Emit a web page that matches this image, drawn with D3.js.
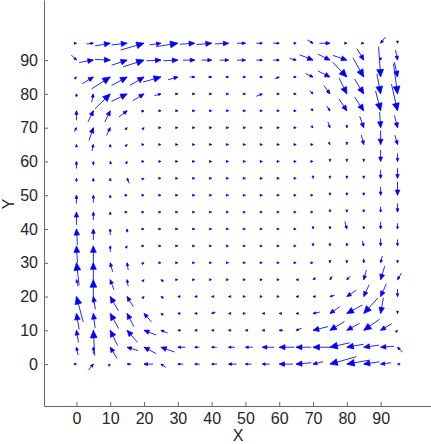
<!DOCTYPE html>
<html>
<head>
<meta charset="utf-8">
<script src="https://d3js.org/d3.v7.min.js"></script>
<style>
body { margin: 0; background: #fff; }
</style>
</head>
<body>
<div id="canvas"></div>
<script>
// DATA ========================================================================

var X_GRID = [0, 5, 10, 15, 20, 25, 30, 35, 40, 45, 50, 55, 60, 65, 70, 75, 80, 85, 90, 95]

// rows of U and V go from the top of the plot (y = 95) down to y = 0
var Y_GRID = [95, 90, 85, 80, 75, 70, 65, 60, 55, 50, 45, 40, 35, 30, 25, 20, 15, 10, 5, 0]

// x component of each arrow (tail -> head, head sits on the grid point)
var U = [
    [0.5, 2, 4.5, 4.6, 6.9, 3.4, 6.4, 4.4, 4.5, 4, 2.5, 1.8, 1.8, 0.5, 1.7, 3.1, 0.5, 0.2, -1.4, 0],
    [1.5, 4.2, 4.5, 4.6, 6.2, 4.3, 4.3, 3.5, 3, 2.6, 2.5, 1.8, 1.8, 1.9, 4, 3.6, 4.1, 2, 0, 0.6],
    [0.2, 3.3, 5.5, 4.6, 4.2, 5.3, 2.9, 1.5, 1, 0.5, 0.5, 0.5, 1.3, 0.5, 2.2, 3.6, 4.2, 3.2, 0.6, 0.9],
    [0, 0.5, 4.5, 4.6, 3.3, 1.9, 0.5, 0.4, 0.4, 0.3, 0.3, 1.8, 0.3, 0.3, 1, 1.8, 2.3, 2.7, 1.1, 1.2],
    [0, 1.6, 1.6, 2.4, 0.8, 0.4, 0.3, 0.3, 0.3, 0.3, 0.3, 0.3, 0.3, 0.3, 0.5, 1, 2.3, 2.7, 1.5, 1.8],
    [0.6, 1.3, 1.1, 0.6, 0.3, 0.2, 0.2, 0.2, 0.2, 0.2, 0.2, 0.2, 0.2, 0.2, 0.3, 0.6, 0, 1.2, 0.3, 0.9],
    [0, 0.4, 0, 0.2, 0.2, 0.2, 0.2, 0.2, 0.2, 0.2, 0.2, 0.2, 0.2, 0.2, 0.2, 0.1, 0, 0.7, 0, 0.8],
    [0, 0, -0.2, 0.1, 0.2, 0.2, 0.2, 0.2, 0.2, 0.1, 0.1, 0.1, 0.1, 0.1, 0.1, 0, 0, 0, 0, 0],
    [0, 0, 0, -0.6, 0.2, 0.1, 0.1, 0.1, 0.1, 0.1, 0.1, 0.1, 0.1, 0.1, 0, 0, 0, 0, 0, 0],
    [0, 0, 0, 0.3, 0.1, 0.1, 0.1, 0.1, 0.1, 0.1, 0.1, 0.1, 0.1, 0, 0, 0, 0, 0, 0, 0],
    [0, 0, 0, 0.2, 0.1, 0.1, 0.1, 0.1, 0.1, 0, 0, 0, 0, 0, 0, 0, 0, 0, 0, 0],
    [-0.3, 0, 0, 0, 0.1, 0.1, 0.1, 0.1, 0.1, 0, 0, 0, 0, 0, 0, 0, 0.6, 0, 0, 0],
    [-0.3, 0, 0, 0.2, 0.1, 0.1, 0.1, 0, 0, 0, 0, 0, 0, 0, 0, 0, 0, 0.4, 0, 0],
    [-0.8, 0, -0.7, -0.3, 0.2, 0.1, 0, 0, 0, 0, 0, 0, 0, 0, 0, 0, 0, 0, -0.5, 0],
    [-0.5, 0, -1.1, -0.3, 0.3, -0.8, 0, 0, 0, 0, 0, 0, 0, -0.3, -0.8, -0.7, -1.1, -0.8, -1.2, -1.1],
    [-2, -0.6, -2.4, -1.8, 0.2, -0.8, -0.2, -0.2, -0.2, -0.2, 0, 0, 0, -0.4, -0.6, -1.4, -2.8, -1.6, -1.7, 0],
    [-0.8, -0.5, -2.5, -2, -2.2, -0.6, -0.3, -0.3, -1.2, -0.3, 0, -0.3, -0.3, -0.4, -2, -2.9, -4.6, -4.2, -0.8, 0],
    [-0.6, -0.4, -2.2, -3, -3.6, -2, -0.8, -0.3, -0.2, -0.2, -0.4, -0.5, -1.2, -1.6, -4.4, -4.3, -3.8, -4.7, -3.3, 0.1],
    [-0.5, 0, -2, -3.2, -3.6, -4, -2.2, -1.4, -1.5, -1.9, -2.2, -3.5, -4.5, -4.5, -5, -5.8, -5, -4.5, -4, -1.5],
    [0.3, 1.5, 0.1, -1.3, -2.7, -1.5, -1.6, -1.5, -1.6, -2.4, -1.8, -2.2, -4.1, -4.5, -3, -7.8, -6.8, -4.7, -3.1, -0.3]
]

// y component of each arrow
var V = [
    [0, 0.2, 0.8, 0.5, 2, 0.5, 1, 0.3, 0.4, 0.2, 0, 0, 0, 0, -1, 0, 0, 0, -1.8, -0.5],
    [-1.5, 0.7, -0.2, 1.5, 2, 0.2, 0.2, 0, 0, 0, 0, 0, 0, -0.5, -1.6, -1.8, -1.4, -3.4, -0.3, -3],
    [0.2, 2, 3.5, 2.5, 2.5, 1.5, 0.8, 0, 0, 0, 0, 0, 0.5, 0, -1, -1.8, -4.4, -5.7, -9, -4.4],
    [0.8, 2.5, 4.4, 2.2, 2, 0.5, 0, 0, 0, 0, 0, 0.7, 0, 0, -1, -2.5, -4.7, -4.4, -5.9, -9],
    [2.8, 3.3, 3.3, 1.8, 0.2, 0, 0, 0, 0, 0, 0, 0, 0, 0, -0.5, -1.5, -3.5, -4.1, -5.9, -7.9],
    [1.2, 3.8, 2.3, 0.6, 0.3, 0, 0, 0, 0, 0, 0, 0, 0, 0, -0.3, -1.7, -0.5, -3.4, -4.6, -3.6],
    [0.6, 1.9, 0.5, 0.2, 0, 0, 0, 0, 0, 0, 0, 0, 0, 0, 0, -0.2, -0.3, -2.8, -4.2, -2.8],
    [2.1, 1.2, 0.8, 0.2, 0, 0, 0, 0, 0, 0, 0, 0, 0, 0, 0, -0.1, -0.2, -0.5, -3.4, -2.4],
    [1, 1, 0.4, 1.5, 0.1, 0, 0, 0, 0, 0, 0, 0, 0, 0, -0.1, -0.1, -0.6, -0.7, -2.5, -3],
    [2.5, 2.2, 0.5, 0, 0, 0, 0, 0, 0, 0, 0, 0, 0, 0, 0, -0.1, -0.2, -0.5, -2.5, -4],
    [3.8, 2.4, 0.5, 0, 0, 0, 0, 0, 0, 0, 0, 0, 0, 0, 0, -0.1, -0.3, -0.5, -1.6, -2.6],
    [4.7, 3.3, 1.8, 1, 0, 0, 0, 0, 0, 0, 0, 0, 0, 0, -0.1, -0.5, -2.2, -0.5, -2.2, -1.7],
    [5, 5, 1.8, 0.3, 0, 0, 0, 0, 0, 0, 0, 0, 0, 0, -0.1, -0.3, -0.3, -1.5, -2.2, -1.9],
    [6.6, 5.1, 2.7, 2.2, 0.1, 0, 0, 0, 0, 0, 0, 0, 0, 0, 0, -0.3, -0.3, -1.3, -2, -0.3],
    [2, 7, 3, 2, 0.3, 0.6, 0, 0, 0, 0, 0, 0, 0, 0, -0.6, -1.1, -1.1, -2.9, -4, -1.9],
    [7.5, 3.8, 4.2, 3, 0.2, 0.5, 0, 0, 0, 0, 0, 0, 0, 0, 0, -0.4, -1.9, -3.5, -3.8, -2.2],
    [4.8, 4.3, 4.5, 3.9, 2.5, 0.4, 0, 0, -0.4, 0, 0, 0, 0, 0, -0.4, -2, -2.5, -4.6, -4.6, -0.5],
    [3.6, 7.5, 4.5, 3.5, 1.4, 0.8, 0, 0, 0, 0, 0, 0, 0, -0.6, -1.1, -2.6, -2.1, -3.3, -2, 0.1],
    [2.3, 2, 3.3, 1, 1.9, 1.4, 0, 0, 0, 0, 0, 0, 0, 0, 0, -1.3, -0.9, -0.6, -0.3, 1.5],
    [0, 1.8, 0.1, 0, 0, 1, 0, 0, 0, 0, 0, 0, 0, -0.4, -0.7, -2.2, -1.2, -0.7, -0.4, 0]
]

var X_TICKS = [0, 10, 20, 30, 40, 50, 60, 70, 80, 90]

var Y_TICKS = [0, 10, 20, 30, 40, 50, 60, 70, 80, 90]

var X_LABEL = "X"

var Y_LABEL = "Y"

// SETTINGS ====================================================================

var WIDTH = 431

var HEIGHT = 444

var FONT = "'Liberation Sans', Arial, Helvetica, sans-serif"

var FONT_SIZE = 16

var TEXT_COLOR = "#262626"

var AXIS_COLOR = "#666"

var ARROW_COLOR = "#0000ff"

var FRAME = { "left": 44, "right": 431, "top": 0, "bottom": 406 }

var X_DOMAIN = [-9.6, 104.9]

var Y_DOMAIN = [-12.4, 107.8]

// DRAW ========================================================================

function generate() {
    let svg = d3.select("#canvas").append("svg")
        .attr("width", WIDTH)
        .attr("height", HEIGHT)
        .style("display", "block")

    let x = d3.scaleLinear().domain(X_DOMAIN).range([FRAME.left, FRAME.right])
    let y = d3.scaleLinear().domain(Y_DOMAIN).range([FRAME.bottom, FRAME.top])

    drawAxes(svg, x, y)

    // Flatten the grid into one list of arrows.
    let arrows = []
    Y_GRID.forEach(function(gy, j) {
        X_GRID.forEach(function(gx, i) {
            arrows.push({ "x": gx, "y": gy, "u": U[j][i], "v": V[j][i] })
        })
    })

    let g = svg.append("g").attr("class", "arrows")

    g.selectAll("line")
        .data(arrows).enter()
        .append("line")
            .attr("x1", d => x(d.x - d.u))
            .attr("y1", d => y(d.y - d.v))
            .attr("x2", d => x(d.x))
            .attr("y2", d => y(d.y))
            .attr("stroke", ARROW_COLOR)
            .attr("stroke-width", 0.85)

    g.selectAll("path")
        .data(arrows).enter()
        .append("path")
            .attr("d", d => head(x(d.x - d.u), y(d.y - d.v), x(d.x), y(d.y)))
            .attr("fill", ARROW_COLOR)
            .attr("stroke", ARROW_COLOR)
            .attr("stroke-width", 0.7)
            .attr("stroke-linejoin", "round")
}

function drawAxes(svg, x, y) {
    let xAxis = d3.axisBottom(x)
        .tickValues(X_TICKS)
        .tickSizeInner(-4)
        .tickSizeOuter(0)
        .tickPadding(7)

    let yAxis = d3.axisLeft(y)
        .tickValues(Y_TICKS)
        .tickSizeInner(-4)
        .tickSizeOuter(0)
        .tickPadding(6)

    svg.append("g")
        .attr("transform", translate(0, FRAME.bottom))
        .call(xAxis)
        .call(style)

    svg.append("g")
        .attr("transform", translate(FRAME.left, 0))
        .call(yAxis)
        .call(style)

    svg.append("text")
        .text(X_LABEL)
        .attr("x", (FRAME.left + FRAME.right)/2 + 0.5)
        .attr("y", 441)
        .attr("text-anchor", "middle")
        .attr("font-family", FONT)
        .attr("font-size", FONT_SIZE + "px")
        .attr("fill", TEXT_COLOR)

    svg.append("text")
        .text(Y_LABEL)
        .attr("transform", translate(14, 204) + " rotate(-90)")
        .attr("text-anchor", "middle")
        .attr("font-family", FONT)
        .attr("font-size", FONT_SIZE + "px")
        .attr("fill", TEXT_COLOR)
}

function style(g) {
    g.select(".domain").attr("stroke", AXIS_COLOR)
    g.selectAll(".tick line").attr("stroke", AXIS_COLOR)
    g.selectAll(".tick text")
        .attr("fill", TEXT_COLOR)
        .attr("font-family", FONT)
        .attr("font-size", FONT_SIZE + "px")
}

// -----------------------------------------------------------------------------

function head(x1, y1, x2, y2) {
    let dx = x2 - x1
    let dy = y2 - y1
    let len = Math.sqrt(dx*dx + dy*dy)
    if (len < 0.01) { dx = 1; dy = 0; len = 1 }
    let ux = dx/len
    let uy = dy/len
    let h = Math.min(Math.max(0.38*len, 2.2), 7.5)
    let w = 0.45*h
    let bx = x2 - ux*h
    let by = y2 - uy*h
    return "M" + (bx - uy*w) + "," + (by + ux*w)
        + "L" + x2 + "," + y2
        + "L" + (bx + uy*w) + "," + (by - ux*w) + "Z"
}

function translate(x, y) {
    return "translate(" + x + "," + y + ")"
}

generate()
</script>
</body>
</html>
